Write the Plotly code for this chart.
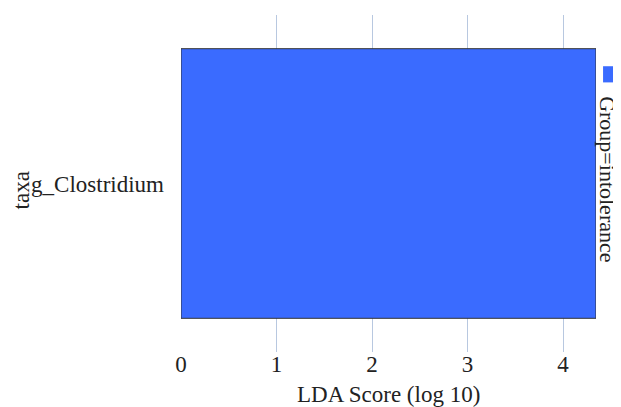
import plotly.graph_objects as go

taxa = ["g_Clostridium"]
lda_scores = [4.345]
group_name = "Group=intolerance"
x_ticks = [0, 1, 2, 3, 4]
x_title = "LDA Score (log 10)"
y_title = "taxa"

FONT = "Times New Roman, Liberation Serif, serif"
BAR_COLOR = "#3A6BFF"
FS = 23
TXT = "#222222"

fig = go.Figure()
fig.add_trace(go.Bar(
    x=lda_scores, y=taxa, orientation="h", name=group_name,
    marker=dict(color=BAR_COLOR, line=dict(color="#333333", width=1)),
    showlegend=False,
))

fig.update_layout(
    width=613, height=399,
    margin=dict(l=173, r=25, t=7, b=55),
    paper_bgcolor="white", plot_bgcolor="white",
    font=dict(family=FONT, size=FS, color=TXT),
    bargap=0.2,
    xaxis=dict(
        range=[0, max(lda_scores)], tickvals=x_ticks,
        showgrid=True, gridcolor="#B8C8E0", gridwidth=1,
        zeroline=False, showline=False, ticks="", automargin=False,
        ticklabelstandoff=-4,
        tickfont=dict(family=FONT, size=FS),
    ),
    yaxis=dict(
        showgrid=False, zeroline=False, showline=False, ticks="", automargin=False,
        ticklabelstandoff=16,
        tickfont=dict(family=FONT, size=FS),
    ),
)

# axis titles placed as annotations for exact positioning
fig.add_annotation(text=x_title, xref="paper", yref="paper",
                   x=0.5, y=-0.125, xanchor="center", yanchor="middle",
                   showarrow=False, font=dict(family=FONT, size=FS, color=TXT))
fig.add_annotation(text=y_title, xref="paper", yref="paper",
                   x=-0.385, y=0.48, xanchor="center", yanchor="middle",
                   textangle=-90, showarrow=False,
                   font=dict(family=FONT, size=FS, color=TXT))

# legend drawn in paper coordinates, rotated like the reference
fig.add_shape(type="rect", xref="paper", yref="paper",
              x0=1.017, x1=1.055, y0=0.80, y1=0.848,
              fillcolor=BAR_COLOR, line=dict(color=BAR_COLOR, width=0))
fig.add_annotation(text=group_name, xref="paper", yref="paper",
                   x=1.029, y=0.765, xanchor="center", yanchor="top",
                   textangle=90, showarrow=False,
                   font=dict(family=FONT, size=22, color=TXT))

fig.write_html("out.html")
